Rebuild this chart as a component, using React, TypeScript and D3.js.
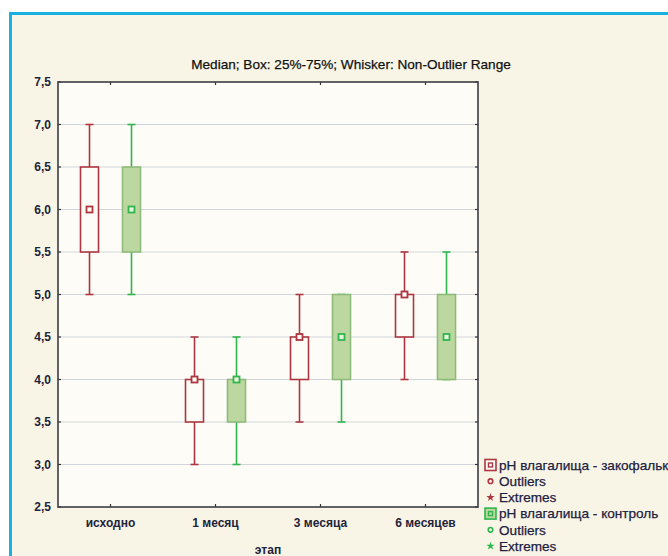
import React from "react";
import * as d3 from "d3";

const categories = ["исходно", "1 месяц", "3 месяца", "6 месяцев"];
const seriesNames = ["pH влагалища - закофальк", "pH влагалища - контроль"];

const zakMin = [5.0, 3.0, 3.5, 4.0];
const zakQ1 = [5.5, 3.5, 4.0, 4.5];
const zakMed = [6.0, 4.0, 4.5, 5.0];
const zakQ3 = [6.5, 4.0, 4.5, 5.0];
const zakMax = [7.0, 4.5, 5.0, 5.5];

const konMin = [5.0, 3.0, 3.5, 4.0];
const konQ1 = [5.5, 3.5, 4.0, 4.0];
const konMed = [6.0, 4.0, 4.5, 4.5];
const konQ3 = [6.5, 4.0, 5.0, 5.0];
const konMax = [7.0, 4.5, 5.0, 5.5];

const yTicks = [2.5, 3.0, 3.5, 4.0, 4.5, 5.0, 5.5, 6.0, 6.5, 7.0, 7.5];

const W = 668;
const H = 556;
const M = { left: 58, right: 478, top: 82, bottom: 507 };

const RED = "#ad3640";
const GREEN = "#2fb64e";
const GREEN_FILL = "#bcd8a0";
const GREEN_BOX = "#8fbb7a";
const FONT = "'Liberation Sans', Arial, sans-serif";
const TXT = "#23233a";

type S = { min: number[]; q1: number[]; med: number[]; q3: number[]; max: number[] };
const series: { key: string; data: S; stroke: string; whisker: string; fill: string; medFill: string }[] = [
  { key: "zak", data: { min: zakMin, q1: zakQ1, med: zakMed, q3: zakQ3, max: zakMax }, stroke: RED, whisker: RED, fill: "#fdfcf6", medFill: "#fdfcf6" },
  { key: "kon", data: { min: konMin, q1: konQ1, med: konMed, q3: konQ3, max: konMax }, stroke: GREEN_BOX, whisker: GREEN, fill: GREEN_FILL, medFill: "#e8f3dc" },
];

export default function App() {
  const x = d3.scaleBand<string>().domain(categories).range([M.left, M.right]).padding(0);
  const bw = x.bandwidth();
  const inner = d3.scaleBand<string>().domain(series.map((s) => s.key)).range([-42, 42]);
  const y = d3.scaleLinear().domain([2.5, 7.5]).range([M.bottom, M.top]);
  const boxW = 18;
  const capW = 8;
  const fmt = (v: number) => d3.format(".1f")(v).replace(".", ",");

  const legendRows = [
    { type: "box", color: RED, fill: "#fdfcf6", text: seriesNames[0] },
    { type: "circle", color: RED, text: "Outliers" },
    { type: "star", color: RED, text: "Extremes" },
    { type: "box", color: GREEN, fill: GREEN_FILL, text: seriesNames[1] },
    { type: "circle", color: GREEN, text: "Outliers" },
    { type: "star", color: GREEN, text: "Extremes" },
  ];
  const star = d3.symbol().type(d3.symbolStar).size(22);

  return (
    <div style={{ position: "absolute", left: 0, top: 0 }}>
      <svg width={W} height={H} style={{ display: "block" }}>
        <rect x={0} y={0} width={W} height={H} fill="#ffffff" />
        <rect x={10} y={13} width={W - 10} height={H - 13} fill="#f8f5e6" />
        <line x1={10.5} y1={12} x2={10.5} y2={H} stroke="#19b1e2" strokeWidth={3} />
        <line x1={9} y1={13.5} x2={W} y2={13.5} stroke="#19b1e2" strokeWidth={3} />

        <text x={351} y={69} textAnchor="middle" fontFamily={FONT} fontSize={13.6} fill="#111" stroke="#111" strokeWidth={0.25}>
          Median; Box: 25%-75%; Whisker: Non-Outlier Range
        </text>

        <rect x={M.left} y={M.top} width={M.right - M.left} height={M.bottom - M.top} fill="#fdfcf6" />
        {yTicks.slice(1, -1).map((t) => (
          <line key={t} x1={M.left} x2={M.right} y1={y(t)} y2={y(t)} stroke="#d3d5dc" strokeWidth={1.2} />
        ))}
        {yTicks.map((t) => (
          <g key={"yt" + t}>
            <line x1={M.left} x2={M.left + 3} y1={y(t)} y2={y(t)} stroke="#333" strokeWidth={1.2} />
            <line x1={M.right - 3} x2={M.right} y1={y(t)} y2={y(t)} stroke="#333" strokeWidth={1.2} />
            <text x={51} y={y(t)} dy="0.35em" textAnchor="end" fontFamily={FONT} fontWeight="bold" fontSize={12} fill={TXT}>
              {fmt(t)}
            </text>
          </g>
        ))}
        {categories.map((c) => {
          const cx = (x(c) as number) + bw / 2;
          return (
            <g key={"xt" + c}>
              <line x1={cx} x2={cx} y1={M.bottom} y2={M.bottom - 3} stroke="#333" strokeWidth={1.2} />
              <line x1={cx} x2={cx} y1={M.top} y2={M.top + 3} stroke="#333" strokeWidth={1.2} />
              <text x={cx} y={527} textAnchor="middle" fontFamily={FONT} fontWeight="bold" fontSize={12} fill={TXT}>
                {c}
              </text>
            </g>
          );
        })}

        {series.map((s) =>
          categories.map((c, i) => {
            const cx = (x(c) as number) + bw / 2 + (inner(s.key) as number) + inner.bandwidth() / 2;
            const d = s.data;
            return (
              <g key={s.key + c}>
                <line x1={cx} x2={cx} y1={y(d.max[i])} y2={y(d.q3[i])} stroke={s.whisker} strokeWidth={1.6} />
                <line x1={cx} x2={cx} y1={y(d.q1[i])} y2={y(d.min[i])} stroke={s.whisker} strokeWidth={1.6} />
                <line x1={cx - capW / 2} x2={cx + capW / 2} y1={y(d.max[i])} y2={y(d.max[i])} stroke={s.whisker} strokeWidth={1.6} />
                <line x1={cx - capW / 2} x2={cx + capW / 2} y1={y(d.min[i])} y2={y(d.min[i])} stroke={s.whisker} strokeWidth={1.6} />
                <rect
                  x={cx - boxW / 2}
                  y={y(d.q3[i])}
                  width={boxW}
                  height={y(d.q1[i]) - y(d.q3[i])}
                  fill={s.fill}
                  stroke={s.stroke}
                  strokeWidth={1.6}
                />
                <rect
                  x={cx - 3}
                  y={y(d.med[i]) - 3}
                  width={6}
                  height={6}
                  fill={s.medFill}
                  stroke={s.key === "zak" ? RED : GREEN}
                  strokeWidth={1.8}
                />
              </g>
            );
          })
        )}

        <rect x={M.left} y={M.top} width={M.right - M.left} height={M.bottom - M.top} fill="none" stroke="#3a3d44" strokeWidth={1.6} />

        <text x={(M.left + M.right) / 2} y={554} textAnchor="middle" fontFamily={FONT} fontWeight="bold" fontSize={12} fill={TXT}>
          этап
        </text>

        {legendRows.map((r, i) => {
          const ly = 465 + i * 16.2;
          return (
            <g key={"lg" + i}>
              {r.type === "box" && (
                <g>
                  <rect x={485} y={ly - 5.5} width={11} height={11} fill={r.fill} stroke={r.color} strokeWidth={1.6} />
                  <rect x={488.5} y={ly - 2} width={4} height={4} fill="none" stroke={r.color} strokeWidth={1.4} />
                </g>
              )}
              {r.type === "circle" && <circle cx={490.5} cy={ly} r={2.3} fill="none" stroke={r.color} strokeWidth={1.6} />}
              {r.type === "star" && <path d={star() as string} transform={`translate(490.5,${ly})`} fill={r.color} />}
              <text x={499} y={ly} dy="0.36em" fontFamily={FONT} fontSize={13.6} fill="#1d2040" stroke="#1d2040" strokeWidth={0.25}>
                {r.text}
              </text>
            </g>
          );
        })}
      </svg>
    </div>
  );
}
